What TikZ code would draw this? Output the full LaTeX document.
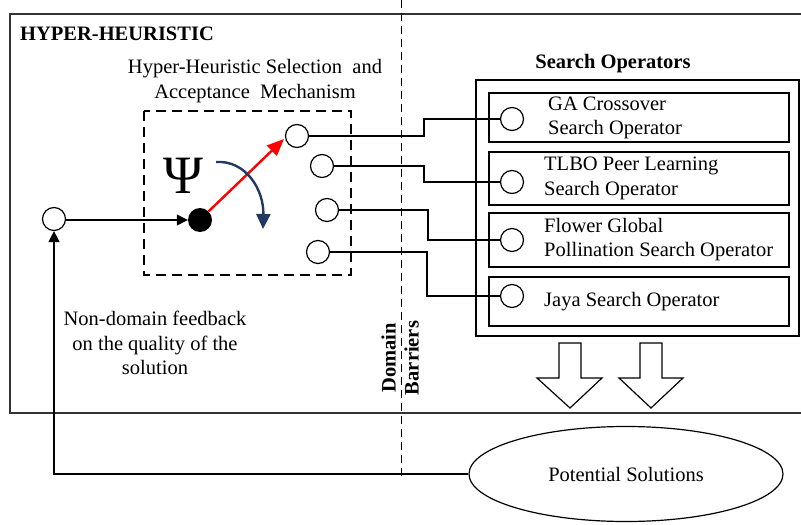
\documentclass[tikz,border=0pt]{standalone}
\usepackage{fontspec}
\setmainfont{Liberation Serif}
\usetikzlibrary{arrows.meta,shapes.geometric}
\definecolor{navy}{HTML}{1F3864}
\tikzset{
  txt/.style={font=\fontsize{20.5}{24.5}\selectfont, inner sep=0pt},
  btxt/.style={font=\fontsize{20.5}{23}\selectfont\bfseries, inner sep=0pt},
  port/.style={circle, draw, fill=white, minimum size=23pt, inner sep=0pt, line width=1.2pt},
  wire/.style={line width=1.2pt},
  opbox/.style={draw, line width=1.6pt},
  hollow/.style={draw, line width=1.2pt, fill=white},
}
\begin{document}
\begin{tikzpicture}[x=1pt,y=-1pt]
\useasboundingbox (0,0) rectangle (801,525);
% outer box (open at the right, runs off the page)
\draw[line width=1.4pt, black!80] (801,14) -- (10,14) -- (10,413) -- (801,413);
% domain barrier
\coordinate (dtop) at (401,0);
\coordinate (dbot) at (401,478);
\draw[line width=1pt, dash pattern=on 8pt off 5pt] (dtop) -- (dbot);
\node[btxt, anchor=west] (hh) at (20,34) {HYPER-HEURISTIC};
\node[txt, align=center] (mech) at (255,81) {Hyper-Heuristic Selection\ \ and\\Acceptance\ \ Mechanism};
% dashed mechanism box
\draw[line width=1.4pt, dash pattern=on 10pt off 6pt] (144,111) rectangle (351,275);
% Search operators
\node[btxt] (sot) at (613,64) {Search Operators};
\draw[line width=1.6pt] (476,80) rectangle (799,336);
\draw[opbox] (489,93) rectangle (789,142);
\draw[opbox] (489,152) rectangle (789,205);
\draw[opbox] (489,213) rectangle (789,267);
\draw[opbox] (489,277) rectangle (789,326);
\node[txt, anchor=west, align=left] (t1) at (548,118) {GA Crossover\\Search Operator};
\node[txt, anchor=west, align=left] (t2) at (544,178.5) {TLBO Peer Learning\\Search Operator};
\node[txt, anchor=west, align=left] (t3) at (544,239.5) {Flower Global\\Pollination Search Operator};
\node[txt, anchor=west] (t4) at (544,302) {Jaya Search Operator};
% ports
\node[port] (in) at (54,219) {};
\node[circle, fill=black, minimum size=24pt, inner sep=0pt] (hub) at (200,220) {};
\node[port] (o1) at (297,136) {};
\node[port] (o2) at (322,166) {};
\node[port] (o3) at (327,210) {};
\node[port] (o4) at (318,252) {};
\node[port] (p1) at (512,119) {};
\node[port] (p2) at (512,182) {};
\node[port] (p3) at (512,240) {};
\node[port] (p4) at (512,296) {};
\coordinate (j1) at (424,128);
\coordinate (j2) at (424,175);
\coordinate (j3) at (428,225);
\coordinate (j4) at (427,275);
\draw[wire] (o1.east) -| (j1) |- (p1.west);
\draw[wire] (o2.east) -| (j2) |- (p2.west);
\draw[wire] (o3.east) -| (j3) |- (p3.west);
\draw[wire] (o4.east) -| (j4) |- (p4.west);
% input arrow
\draw[wire, -{Triangle[length=11pt,width=11pt]}] (in.east |- hub.west) -- (hub.west);
% psi
\node[font=\fontsize{54}{54}\selectfont, inner sep=0pt] (psi) at (183,176) {Ψ};
% red arrow
\coordinate (rt) at (284,139);
\draw[red, line width=2.4pt, -{Triangle[length=17pt,width=14pt]}] (hub.45) -- (rt);
% blue arc
\coordinate (bs) at (216,162);
\coordinate (be) at (263,229);
\draw[navy, line width=2.4pt, -{Triangle[length=15pt,width=14pt]}] (bs) .. controls (246,160) and (264,190) .. (be);
% hollow arrows
\draw[hollow] (559,343) -- (581,343) -- (581,378) -- (602,378) -- (570,408) -- (537,378) -- (559,378) -- cycle;
\draw[hollow] (640,343) -- (662,343) -- (662,378) -- (683,378) -- (651,408) -- (619,378) -- (640,378) -- cycle;
% ellipse
\node[ellipse, draw, line width=1.2pt, minimum width=314pt, minimum height=95pt, inner sep=0pt, font=\fontsize{20.5}{24.5}\selectfont] (ps) at (626,474) {Potential Solutions};
% feedback
\draw[wire, -{Triangle[length=11pt,width=11pt]}] (ps.west) -| (in.south);
\node[txt, align=center] (fb) at (155,343) {Non-domain feedback\\on the quality of the\\solution};
\node[btxt, align=center, rotate=90] (db) at (400,358) {Domain\\Barriers};
\end{tikzpicture}
\end{document}
